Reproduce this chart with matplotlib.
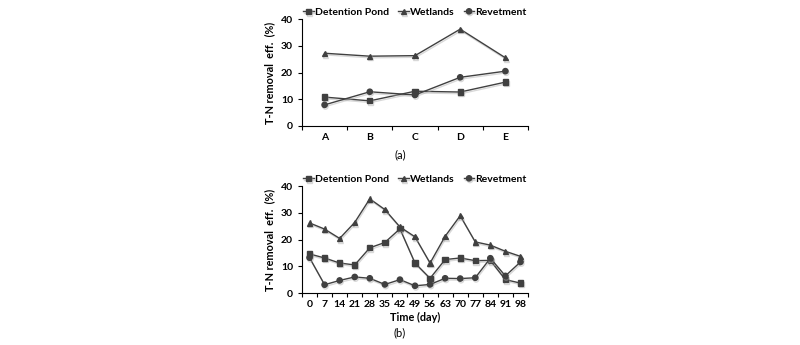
import matplotlib
matplotlib.use("Agg")
import matplotlib.pyplot as plt
import matplotlib.patheffects as pe
import numpy as np

sites = ["A", "B", "C", "D", "E"]
pond_a = [10.8, 9.4, 13.0, 12.7, 16.4]
wet_a = [27.2, 26.1, 26.3, 36.2, 25.5]
rev_a = [7.9, 12.8, 11.6, 18.2, 20.5]

days = ["0", "7", "14", "21", "28", "35", "42", "49", "56", "63", "70", "77", "84", "91", "98"]
pond_b = [14.6, 13.1, 11.2, 10.5, 16.9, 18.9, 24.0, 11.2, 5.5, 12.5, 13.1, 12.1, 12.2, 5.0, 3.7]
wet_b = [26.2, 23.9, 20.4, 26.4, 35.2, 31.2, 24.7, 21.0, 11.2, 21.2, 28.9, 19.1, 17.9, 15.6, 13.7]
rev_b = [13.2, 3.1, 4.7, 6.0, 5.5, 3.2, 5.0, 2.7, 3.2, 5.5, 5.4, 5.7, 13.0, 6.4, 11.6]

plt.rcParams['font.family'] = ['Lato', 'DejaVu Sans']
col = '#404040'
shadow = [pe.SimpleLineShadow(offset=(0.6, -1.2), shadow_color='#aaaaaa', alpha=0.45), pe.Normal()]

fig = plt.figure(figsize=(8, 3.45), dpi=100)

def panel(rect, cats, series, xlabel=None):
    ax = fig.add_axes(rect)
    x = np.arange(len(cats))
    labels = ["Detention Pond", "Wetlands", "Revetment"]
    markers = ["s", "^", "o"]
    for vals, lab, m in zip(series, labels, markers):
        ax.plot(x, vals, color=col, lw=1.0, marker=m, ms=3.8, mfc=col, mec=col,
                label=lab, path_effects=shadow)
    ax.set_xlim(-0.5, len(cats) - 0.5)
    ax.set_ylim(0, 40)
    ax.set_yticks([0, 10, 20, 30, 40])
    ax.set_xticks(x)
    ax.set_xticklabels(cats, fontsize=7.5, fontweight='bold')
    ax.set_xticks(np.arange(len(cats) + 1) - 0.5, minor=True)
    ax.tick_params(axis='x', which='major', length=0, pad=5)
    ax.tick_params(axis='x', which='minor', length=3, width=0.8, color='black')
    ax.tick_params(axis='y', length=3, width=0.8, labelsize=7.5)
    for t in ax.get_yticklabels():
        t.set_fontweight('bold')
    ax.spines['top'].set_visible(False)
    ax.spines['right'].set_visible(False)
    ax.spines['left'].set_linewidth(0.8)
    ax.spines['bottom'].set_linewidth(0.8)
    ax.set_ylabel("T-N removal  eff.  (%)", fontsize=7.8, fontweight='bold', labelpad=4)
    if xlabel:
        ax.set_xlabel(xlabel, fontsize=7.8, fontweight='bold', labelpad=2)
    ax.legend(loc='lower center', bbox_to_anchor=(0.5, 0.98), ncol=3, frameon=False,
              prop={'weight': 'bold', 'size': 7.5}, handlelength=1.0,
              handletextpad=0.1, columnspacing=0.9, borderaxespad=0)
    return ax

ax1 = panel([0.3775, 0.6348, 0.2825, 0.3101], sites, [pond_a, wet_a, rev_a])
fig.text(0.5, 1 - 155 / 345, "(a)", fontsize=8, ha='center', va='center')
ax2 = panel([0.3775, 0.1507, 0.2825, 0.3101], days, [pond_b, wet_b, rev_b], xlabel="Time (day)")
fig.text(0.5, 1 - 333 / 345, "(b)", fontsize=8, ha='center', va='center')

fig.savefig("out.png", dpi=100)
